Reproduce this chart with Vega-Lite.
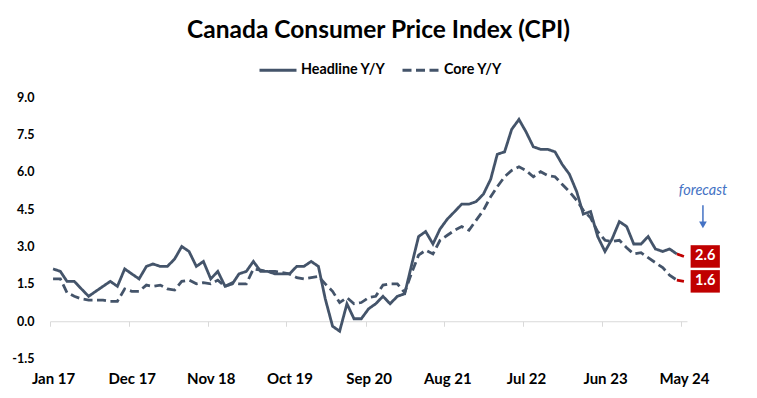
{
  "$schema": "https://vega.github.io/schema/vega-lite/v6.json",
  "width": 637,
  "height": 261.6,
  "autosize": "none",
  "padding": {"left": 50, "top": 97, "right": 70, "bottom": 39.4},
  "background": "white",
  "title": {
    "text": "Canada Consumer Price Index (CPI)",
    "font": "Lato",
    "fontSize": 24.5,
    "fontWeight": "bold",
    "color": "#000000",
    "anchor": "middle",
    "frame": "group",
    "dx": 10,
    "offset": 7
  },
  "config": {
    "view": {"stroke": null},
    "font": "Lato",
    "axis": {"labelFont": "Lato", "labelFontWeight": "bold", "labelColor": "#000000", "labelFontSize": 14, "grid": false},
    "axisY": {"labelOverlap": false, "labelFontSize": 12.5, "domain": false, "ticks": false, "labelPadding": 16, "title": null}
  },
  "datasets": {
    "actual": [
      {"date": "2017-01-01", "Headline Y/Y": 2.1, "Core Y/Y": 1.7},
      {"date": "2017-02-01", "Headline Y/Y": 2.0, "Core Y/Y": 1.7},
      {"date": "2017-03-01", "Headline Y/Y": 1.6, "Core Y/Y": 1.15},
      {"date": "2017-04-01", "Headline Y/Y": 1.6, "Core Y/Y": 1.0},
      {"date": "2017-05-01", "Headline Y/Y": 1.3, "Core Y/Y": 0.9},
      {"date": "2017-06-01", "Headline Y/Y": 1.0, "Core Y/Y": 0.85},
      {"date": "2017-07-01", "Headline Y/Y": 1.2, "Core Y/Y": 0.85},
      {"date": "2017-08-01", "Headline Y/Y": 1.4, "Core Y/Y": 0.85},
      {"date": "2017-09-01", "Headline Y/Y": 1.6, "Core Y/Y": 0.8},
      {"date": "2017-10-01", "Headline Y/Y": 1.4, "Core Y/Y": 0.8},
      {"date": "2017-11-01", "Headline Y/Y": 2.1, "Core Y/Y": 1.3},
      {"date": "2017-12-01", "Headline Y/Y": 1.9, "Core Y/Y": 1.2},
      {"date": "2018-01-01", "Headline Y/Y": 1.7, "Core Y/Y": 1.2},
      {"date": "2018-02-01", "Headline Y/Y": 2.2, "Core Y/Y": 1.45},
      {"date": "2018-03-01", "Headline Y/Y": 2.3, "Core Y/Y": 1.4},
      {"date": "2018-04-01", "Headline Y/Y": 2.2, "Core Y/Y": 1.45},
      {"date": "2018-05-01", "Headline Y/Y": 2.2, "Core Y/Y": 1.3},
      {"date": "2018-06-01", "Headline Y/Y": 2.5, "Core Y/Y": 1.25},
      {"date": "2018-07-01", "Headline Y/Y": 3.0, "Core Y/Y": 1.6},
      {"date": "2018-08-01", "Headline Y/Y": 2.8, "Core Y/Y": 1.65},
      {"date": "2018-09-01", "Headline Y/Y": 2.2, "Core Y/Y": 1.5},
      {"date": "2018-10-01", "Headline Y/Y": 2.4, "Core Y/Y": 1.55},
      {"date": "2018-11-01", "Headline Y/Y": 1.7, "Core Y/Y": 1.5},
      {"date": "2018-12-01", "Headline Y/Y": 2.0, "Core Y/Y": 1.65},
      {"date": "2019-01-01", "Headline Y/Y": 1.4, "Core Y/Y": 1.4},
      {"date": "2019-02-01", "Headline Y/Y": 1.5, "Core Y/Y": 1.55},
      {"date": "2019-03-01", "Headline Y/Y": 1.9, "Core Y/Y": 1.5},
      {"date": "2019-04-01", "Headline Y/Y": 2.0, "Core Y/Y": 1.5},
      {"date": "2019-05-01", "Headline Y/Y": 2.4, "Core Y/Y": 2.1},
      {"date": "2019-06-01", "Headline Y/Y": 2.0, "Core Y/Y": 2.05},
      {"date": "2019-07-01", "Headline Y/Y": 2.0, "Core Y/Y": 2.0},
      {"date": "2019-08-01", "Headline Y/Y": 1.9, "Core Y/Y": 2.0},
      {"date": "2019-09-01", "Headline Y/Y": 1.9, "Core Y/Y": 1.95},
      {"date": "2019-10-01", "Headline Y/Y": 1.9, "Core Y/Y": 1.9},
      {"date": "2019-11-01", "Headline Y/Y": 2.2, "Core Y/Y": 1.75},
      {"date": "2019-12-01", "Headline Y/Y": 2.2, "Core Y/Y": 1.7},
      {"date": "2020-01-01", "Headline Y/Y": 2.4, "Core Y/Y": 1.75},
      {"date": "2020-02-01", "Headline Y/Y": 2.2, "Core Y/Y": 1.8},
      {"date": "2020-03-01", "Headline Y/Y": 0.9, "Core Y/Y": 1.5},
      {"date": "2020-04-01", "Headline Y/Y": -0.2, "Core Y/Y": 1.2},
      {"date": "2020-05-01", "Headline Y/Y": -0.4, "Core Y/Y": 0.75},
      {"date": "2020-06-01", "Headline Y/Y": 0.7, "Core Y/Y": 0.95},
      {"date": "2020-07-01", "Headline Y/Y": 0.1, "Core Y/Y": 0.7},
      {"date": "2020-08-01", "Headline Y/Y": 0.1, "Core Y/Y": 0.75},
      {"date": "2020-09-01", "Headline Y/Y": 0.5, "Core Y/Y": 0.95},
      {"date": "2020-10-01", "Headline Y/Y": 0.7, "Core Y/Y": 1.0},
      {"date": "2020-11-01", "Headline Y/Y": 1.0, "Core Y/Y": 1.45},
      {"date": "2020-12-01", "Headline Y/Y": 0.7, "Core Y/Y": 1.5},
      {"date": "2021-01-01", "Headline Y/Y": 1.0, "Core Y/Y": 1.5},
      {"date": "2021-02-01", "Headline Y/Y": 1.1, "Core Y/Y": 1.15},
      {"date": "2021-03-01", "Headline Y/Y": 2.2, "Core Y/Y": 1.9},
      {"date": "2021-04-01", "Headline Y/Y": 3.4, "Core Y/Y": 2.65},
      {"date": "2021-05-01", "Headline Y/Y": 3.6, "Core Y/Y": 2.85},
      {"date": "2021-06-01", "Headline Y/Y": 3.1, "Core Y/Y": 2.7},
      {"date": "2021-07-01", "Headline Y/Y": 3.7, "Core Y/Y": 3.25},
      {"date": "2021-08-01", "Headline Y/Y": 4.1, "Core Y/Y": 3.45},
      {"date": "2021-09-01", "Headline Y/Y": 4.4, "Core Y/Y": 3.65},
      {"date": "2021-10-01", "Headline Y/Y": 4.7, "Core Y/Y": 3.8},
      {"date": "2021-11-01", "Headline Y/Y": 4.7, "Core Y/Y": 3.65},
      {"date": "2021-12-01", "Headline Y/Y": 4.8, "Core Y/Y": 4.05},
      {"date": "2022-01-01", "Headline Y/Y": 5.1, "Core Y/Y": 4.45},
      {"date": "2022-02-01", "Headline Y/Y": 5.7, "Core Y/Y": 5.0},
      {"date": "2022-03-01", "Headline Y/Y": 6.7, "Core Y/Y": 5.4},
      {"date": "2022-04-01", "Headline Y/Y": 6.8, "Core Y/Y": 5.8},
      {"date": "2022-05-01", "Headline Y/Y": 7.7, "Core Y/Y": 6.05},
      {"date": "2022-06-01", "Headline Y/Y": 8.1, "Core Y/Y": 6.2},
      {"date": "2022-07-01", "Headline Y/Y": 7.6, "Core Y/Y": 6.05},
      {"date": "2022-08-01", "Headline Y/Y": 7.0, "Core Y/Y": 5.8},
      {"date": "2022-09-01", "Headline Y/Y": 6.9, "Core Y/Y": 6.0},
      {"date": "2022-10-01", "Headline Y/Y": 6.9, "Core Y/Y": 5.85},
      {"date": "2022-11-01", "Headline Y/Y": 6.8, "Core Y/Y": 5.8},
      {"date": "2022-12-01", "Headline Y/Y": 6.3, "Core Y/Y": 5.5},
      {"date": "2023-01-01", "Headline Y/Y": 5.9, "Core Y/Y": 5.2},
      {"date": "2023-02-01", "Headline Y/Y": 5.2, "Core Y/Y": 4.85},
      {"date": "2023-03-01", "Headline Y/Y": 4.3, "Core Y/Y": 4.45},
      {"date": "2023-04-01", "Headline Y/Y": 4.4, "Core Y/Y": 4.15},
      {"date": "2023-05-01", "Headline Y/Y": 3.4, "Core Y/Y": 3.6},
      {"date": "2023-06-01", "Headline Y/Y": 2.8, "Core Y/Y": 3.25},
      {"date": "2023-07-01", "Headline Y/Y": 3.3, "Core Y/Y": 3.2},
      {"date": "2023-08-01", "Headline Y/Y": 4.0, "Core Y/Y": 3.25},
      {"date": "2023-09-01", "Headline Y/Y": 3.8, "Core Y/Y": 2.95},
      {"date": "2023-10-01", "Headline Y/Y": 3.1, "Core Y/Y": 2.7},
      {"date": "2023-11-01", "Headline Y/Y": 3.1, "Core Y/Y": 2.75},
      {"date": "2023-12-01", "Headline Y/Y": 3.4, "Core Y/Y": 2.55},
      {"date": "2024-01-01", "Headline Y/Y": 2.9, "Core Y/Y": 2.35},
      {"date": "2024-02-01", "Headline Y/Y": 2.8, "Core Y/Y": 2.15},
      {"date": "2024-03-01", "Headline Y/Y": 2.9, "Core Y/Y": 1.85},
      {"date": "2024-04-01", "Headline Y/Y": 2.7, "Core Y/Y": 1.65}
    ],
    "forecast": [
      {"date": "2024-04-01", "Headline Y/Y": 2.7, "Core Y/Y": 1.65, "end": false},
      {"date": "2024-05-01", "Headline Y/Y": 2.6, "Core Y/Y": 1.6, "end": true}
    ]
  },
  "layer": [
    {
      "data": {"name": "actual"},
      "transform": [{"fold": ["Headline Y/Y", "Core Y/Y"], "as": ["series", "value"]}],
      "mark": {"type": "line", "color": "#44546A", "strokeWidth": 2.8},
      "encoding": {
        "x": {
          "field": "date", "type": "temporal",
          "scale": {"type": "utc", "domain": [{"year": 2016, "month": 12, "date": 19, "utc": true}, {"year": 2024, "month": 5, "date": 14, "utc": true}]},
          "axis": {
            "title": null, "orient": "bottom", "format": "%b %y", "domain": false, "ticks": false, "labelPadding": 13, "labelFontSize": 15, "grid": false,
            "values": [
              {"year": 2017, "month": 1, "date": 1, "utc": true},
              {"year": 2017, "month": 12, "date": 1, "utc": true},
              {"year": 2018, "month": 11, "date": 1, "utc": true},
              {"year": 2019, "month": 10, "date": 1, "utc": true},
              {"year": 2020, "month": 9, "date": 1, "utc": true},
              {"year": 2021, "month": 8, "date": 1, "utc": true},
              {"year": 2022, "month": 7, "date": 1, "utc": true},
              {"year": 2023, "month": 6, "date": 1, "utc": true},
              {"year": 2024, "month": 5, "date": 1, "utc": true}
            ]
          }
        },
        "y": {
          "field": "value", "type": "quantitative",
          "scale": {"domain": [-1.5, 9], "nice": false, "zero": false},
          "axis": {"title": null, "values": [-1.5, 0, 1.5, 3, 4.5, 6, 7.5, 9], "labelExpr": "replace(format(datum.value, '.1f'), '−', '-')", "labelOverlap": false, "labelFontSize": 12.5, "domain": false, "ticks": false, "labelPadding": 16, "grid": false}
        },
        "strokeDash": {
          "field": "series", "type": "nominal",
          "scale": {"domain": ["Headline Y/Y", "Core Y/Y"], "range": [[1, 0], [9, 4.5]]},
          "legend": {
            "title": null, "orient": "none", "legendX": 208, "legendY": -47, "direction": "horizontal",
            "symbolType": "stroke", "symbolSize": 1369, "symbolStrokeWidth": 3, "symbolStrokeColor": "#44546A",
            "labelFont": "Lato", "labelFontSize": 14.3, "labelFontWeight": "bold", "labelColor": "#000000",
            "labelOffset": 3, "columnPadding": 10
          }
        }
      }
    },
    {
      "data": {"name": "forecast"},
      "transform": [{"fold": ["Headline Y/Y", "Core Y/Y"], "as": ["series", "value"]}],
      "mark": {"type": "line", "color": "#C00000", "strokeWidth": 2.8},
      "encoding": {
        "x": {
          "field": "date", "type": "temporal",
          "axis": {
            "title": null, "orient": "bottom", "labels": false, "domain": true, "domainColor": "#D9D9D9", "domainWidth": 1,
            "ticks": true, "tickColor": "#D9D9D9", "tickSize": 5, "tickOffset": -3, "offset": -37.36, "grid": false,
            "values": [
              {"year": 2017, "month": 1, "date": 1, "utc": true},
              {"year": 2017, "month": 12, "date": 1, "utc": true},
              {"year": 2018, "month": 11, "date": 1, "utc": true},
              {"year": 2019, "month": 10, "date": 1, "utc": true},
              {"year": 2020, "month": 9, "date": 1, "utc": true},
              {"year": 2021, "month": 8, "date": 1, "utc": true},
              {"year": 2022, "month": 7, "date": 1, "utc": true},
              {"year": 2023, "month": 6, "date": 1, "utc": true},
              {"year": 2024, "month": 5, "date": 1, "utc": true}
            ]
          }
        },
        "y": {"field": "value", "type": "quantitative", "axis": {"title": null, "values": [-1.5, 0, 1.5, 3, 4.5, 6, 7.5, 9], "labelExpr": "replace(format(datum.value, '.1f'), '−', '-')", "labelOverlap": false, "labelFontSize": 12.5, "domain": false, "ticks": false, "labelPadding": 16, "grid": false}},
        "strokeDash": {"field": "series", "type": "nominal", "legend": null}
      }
    },
    {
      "data": {"name": "forecast"},
      "transform": [{"filter": "datum.end"}, {"fold": ["Headline Y/Y", "Core Y/Y"], "as": ["series", "value"]}],
      "mark": {"type": "point", "shape": "M-1.3,-1H1.3V1H-1.3Z", "size": 506, "filled": true, "opacity": 1, "color": "#C00000", "strokeWidth": 0, "xOffset": 21.3},
      "encoding": {
        "x": {"field": "date", "type": "temporal", "axis": null},
        "y": {"field": "value", "type": "quantitative", "axis": {"title": null, "values": [-1.5, 0, 1.5, 3, 4.5, 6, 7.5, 9], "labelExpr": "replace(format(datum.value, '.1f'), '−', '-')", "labelOverlap": false, "labelFontSize": 12.5, "domain": false, "ticks": false, "labelPadding": 16, "grid": false}}
      }
    },
    {
      "data": {"name": "forecast"},
      "transform": [{"filter": "datum.end"}, {"fold": ["Headline Y/Y", "Core Y/Y"], "as": ["series", "value"]}],
      "mark": {"type": "text", "color": "#FFFFFF", "font": "Lato", "fontSize": 14.5, "fontWeight": "bold", "align": "center", "baseline": "middle", "xOffset": 21.3},
      "encoding": {
        "x": {"field": "date", "type": "temporal", "axis": null},
        "y": {"field": "value", "type": "quantitative", "axis": {"title": null, "values": [-1.5, 0, 1.5, 3, 4.5, 6, 7.5, 9], "labelExpr": "replace(format(datum.value, '.1f'), '−', '-')", "labelOverlap": false, "labelFontSize": 12.5, "domain": false, "ticks": false, "labelPadding": 16, "grid": false}},
        "text": {"field": "value", "type": "quantitative", "format": ".1f"}
      }
    },
    {
      "data": {"name": "forecast"},
      "transform": [{"filter": "datum.end"}],
      "mark": {"type": "text", "color": "#4472C4", "font": "Lato", "fontSize": 14.5, "fontStyle": "italic", "align": "center", "baseline": "middle", "xOffset": 19},
      "encoding": {
        "x": {"field": "date", "type": "temporal", "axis": null},
        "y": {"datum": 5.23, "type": "quantitative", "axis": {"title": null, "values": [-1.5, 0, 1.5, 3, 4.5, 6, 7.5, 9], "labelExpr": "replace(format(datum.value, '.1f'), '−', '-')", "labelOverlap": false, "labelFontSize": 12.5, "domain": false, "ticks": false, "labelPadding": 16, "grid": false}},
        "text": {"value": "forecast"}
      }
    },
    {
      "data": {"name": "forecast"},
      "transform": [{"filter": "datum.end"}],
      "mark": {"type": "rule", "color": "#4472C4", "strokeWidth": 1.5, "xOffset": 19},
      "encoding": {
        "x": {"field": "date", "type": "temporal", "axis": null},
        "y": {"datum": 4.66, "type": "quantitative", "axis": {"title": null, "values": [-1.5, 0, 1.5, 3, 4.5, 6, 7.5, 9], "labelExpr": "replace(format(datum.value, '.1f'), '−', '-')", "labelOverlap": false, "labelFontSize": 12.5, "domain": false, "ticks": false, "labelPadding": 16, "grid": false}},
        "y2": {"datum": 3.95}
      }
    },
    {
      "data": {"name": "forecast"},
      "transform": [{"filter": "datum.end"}],
      "mark": {"type": "point", "shape": "triangle-down", "size": 60, "filled": true, "opacity": 1, "color": "#4472C4", "xOffset": 19},
      "encoding": {
        "x": {"field": "date", "type": "temporal", "axis": null},
        "y": {"datum": 3.87, "type": "quantitative", "axis": {"title": null, "values": [-1.5, 0, 1.5, 3, 4.5, 6, 7.5, 9], "labelExpr": "replace(format(datum.value, '.1f'), '−', '-')", "labelOverlap": false, "labelFontSize": 12.5, "domain": false, "ticks": false, "labelPadding": 16, "grid": false}}
      }
    }
  ],
  "resolve": {"axis": {"x": "independent"}}
}
